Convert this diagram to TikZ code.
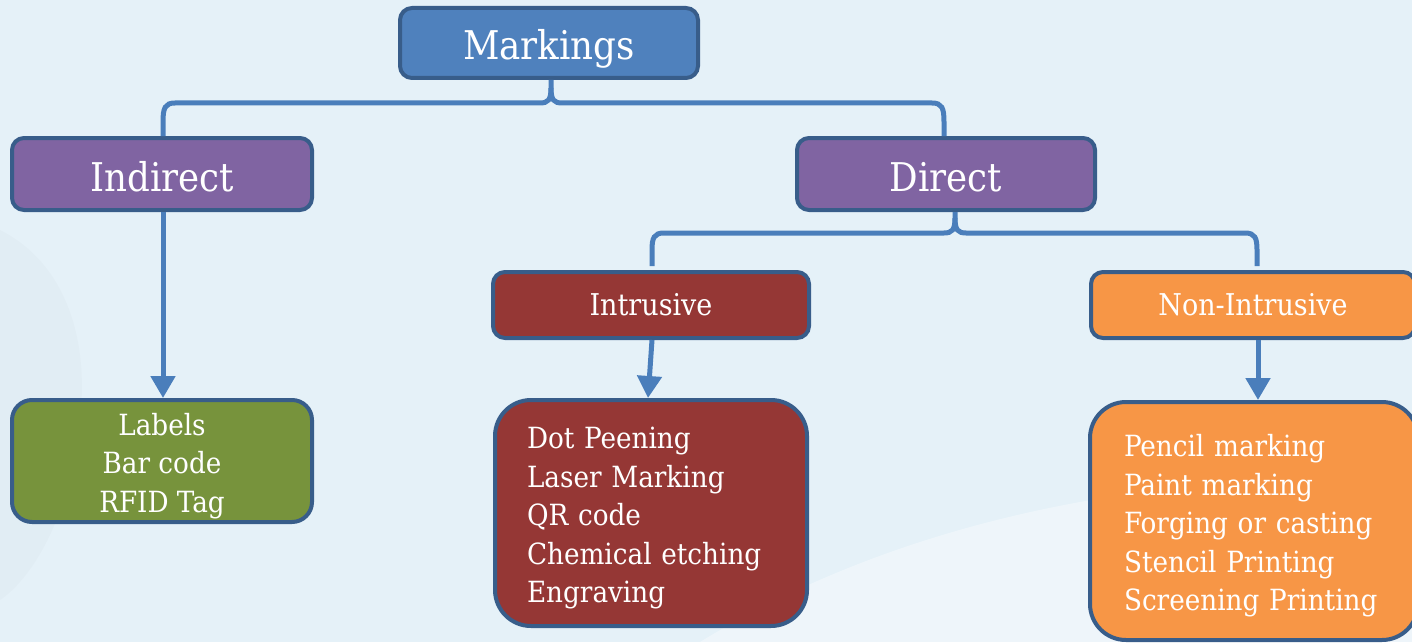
\documentclass[tikz,border=0pt]{standalone}
\usepackage{fontspec}
\setmainfont{DejaVu Serif Condensed}
\usetikzlibrary{arrows.meta}
\definecolor{bgc}{HTML}{E5F1F8}
\definecolor{bord}{HTML}{385D8A}
\definecolor{conn}{HTML}{4A7EBB}
\definecolor{blu}{HTML}{4F81BD}
\definecolor{pur}{HTML}{8064A2}
\definecolor{rd}{HTML}{953735}
\definecolor{org}{HTML}{F79646}
\definecolor{grn}{HTML}{77933C}
\newcommand\tpad{\rule{0pt}{16pt}}
\tikzset{
  box/.style={draw=bord, line width=2pt, rounded corners=6pt, text=white, inner sep=0pt, align=center},
  hdr/.style={box, font=\fontsize{19.8}{24}\selectfont, text height=17pt, text depth=0pt},
  sub/.style={box, font=\fontsize{15}{18}\selectfont},
  lst/.style={box, rounded corners=18pt, font=\fontsize{14.6}{19.25}\selectfont},
  con/.style={draw=conn, line width=2.5pt},
  arr/.style={con, -{Triangle[width=12pt,length=11pt]}},
}
\begin{document}
\begin{tikzpicture}[x=0.5pt,y=-0.5pt]
\useasboundingbox (0,0) rectangle (1412,642);
\fill[bgc] (0,0) rectangle (1412,642);
\fill[gray,opacity=0.03] (0,230) .. controls (60,260) and (90,330) .. (80,420) .. controls (70,520) and (30,580) .. (0,600) -- cycle;
\fill[white,opacity=0.35] (700,642) .. controls (900,520) and (1150,470) .. (1412,480) -- (1412,642) -- cycle;
% nodes
\node[hdr, fill=blu, minimum width=149pt, minimum height=35pt] (mk) at (549,43) {Markings};
\node[hdr, fill=pur, minimum width=150pt, minimum height=36pt] (ind) at (162,174) {Indirect};
\node[hdr, fill=pur, minimum width=149pt, minimum height=36pt] (dir) at (946,174) {Direct};
\node[sub, fill=rd, minimum width=158pt, minimum height=33pt] (intr) at (651,305) {Intrusive};
\node[sub, fill=org, minimum width=162pt, minimum height=33pt] (nint) at (1253,305) {Non-Intrusive};
\node[lst, rounded corners=10pt, fill=grn, minimum width=150pt, minimum height=61pt] (lab) at (162,461) {\tpad Labels\\Bar code\\RFID Tag};
\node[lst, fill=rd, text width=124pt, inner xsep=16pt, minimum height=113pt, align=left] (il) at (651,513) {\tpad Dot Peening\\Laser Marking\\QR code\\Chemical etching\\Engraving};
\node[lst, fill=org, text width=130pt, inner xsep=17pt, minimum height=119pt, align=left] (nl) at (1254,521) {\tpad Pencil marking\\Paint marking\\Forging or casting\\Stencil Printing\\Screening Printing};
% braces
\coordinate (b1) at (551,103);
\draw[con] (mk.south -| b1) -- (551,88) .. controls (551,100) and (548,103) .. (540,103) -- (175,103) .. controls (165,103) and (163,108) .. (163,122) -- (ind.north -| 163,0);
\draw[con] (551,88) .. controls (551,100) and (554,103) .. (562,103) -- (932,103) .. controls (942,103) and (944,108) .. (944,122) -- (dir.north -| 944,0);
\draw[con] (dir.south -| 955,0) -- (955,218) .. controls (955,230) and (952,233) .. (944,233) -- (664,233) .. controls (654,233) and (652,238) .. (652,250) -- (652,266);
\draw[con] (955,218) .. controls (955,230) and (958,233) .. (966,233) -- (1245,233) .. controls (1255,233) and (1257,238) .. (1257,250) -- (1257,266);
% arrows
\draw[arr] (ind.south -| 163,0) -- (lab.north -| 163,0);
\draw[arr] (intr.south -| 652,0) -- (il.north -| 648,0);
\draw[arr] (nint.south -| 1258,0) -- (nl.north -| 1258,0);
\end{tikzpicture}
\end{document}
